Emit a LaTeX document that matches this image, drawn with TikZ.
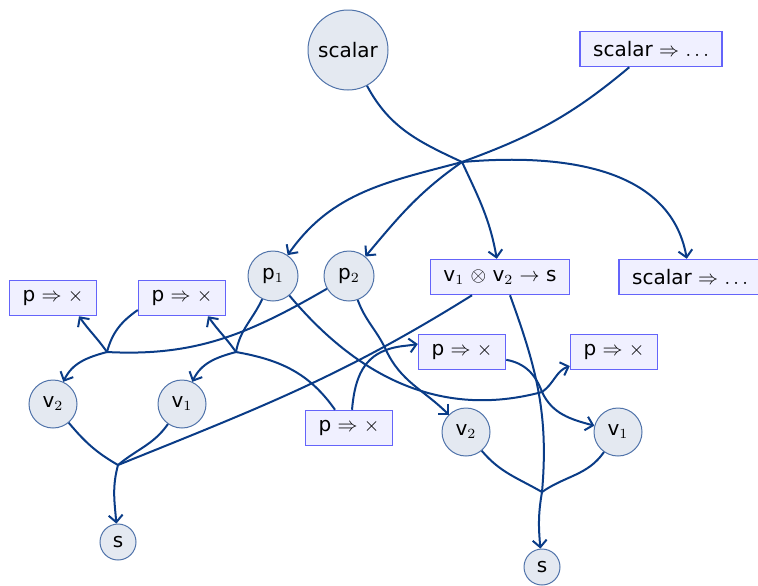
\documentclass[tikz,border=0pt]{standalone}
\usepackage{fontspec}
\setmainfont{DejaVu Sans}
\usetikzlibrary{arrows.meta}
\definecolor{linkblue}{RGB}{10,60,135}
\definecolor{valfill}{RGB}{228,233,241}
\definecolor{valdraw}{RGB}{80,115,170}
\definecolor{funfill}{RGB}{240,240,255}
\definecolor{fundraw}{RGB}{100,100,250}
\begin{document}
\begin{tikzpicture}[x=0.5pt, y=-0.5pt, >={Straight Barb[length=3.5pt,width=7pt]},
  every node/.style={font=\fontsize{10}{12}\selectfont},
  val/.style={circle, draw=valdraw, fill=valfill, line width=0.5pt, inner sep=1pt},
  fun/.style={rectangle, draw=fundraw, fill=funfill, line width=0.75pt, inner xsep=6.5pt, minimum height=17.5pt},
  link/.style={draw=linkblue, line width=1pt}]
\useasboundingbox (0,0) rectangle (758,585);
\node[val, minimum size=40pt] (scalar) at (348,50) {scalar};
\node[fun] (fnTop) at (651,49) {scalar $\Rightarrow$ $\ldots$};
\node[val, minimum size=25pt] (p1) at (273,276) {p$_1$};
\node[val, minimum size=25pt] (p2) at (349,276) {p$_2$};
\node[fun] (tensor) at (500,277) {v$_1$ $\otimes$ v$_2$ $\rightarrow$ s};
\node[fun] (fnRight) at (690,277) {scalar $\Rightarrow$ $\ldots$};
\node[fun] (fnA) at (53,298) {p $\Rightarrow$ $\times$};
\node[fun] (fnB) at (182,298) {p $\Rightarrow$ $\times$};
\node[fun] (fnC) at (349,428) {p $\Rightarrow$ $\times$};
\node[fun] (fnD) at (462,352) {p $\Rightarrow$ $\times$};
\node[fun] (fnE) at (614,352) {p $\Rightarrow$ $\times$};
\node[val, minimum size=24pt] (v2L) at (53,404) {v$_2$};
\node[val, minimum size=24pt] (v1L) at (182,404) {v$_1$};
\node[val, minimum size=24pt] (v2R) at (466,432) {v$_2$};
\node[val, minimum size=24pt] (v1R) at (618,432) {v$_1$};
\node[val, minimum size=18pt] (sL) at (118,542) {s};
\node[val, minimum size=18pt] (sR) at (542,567) {s};
\coordinate (hubTop) at (462,162);
\coordinate (hubA) at (107,352);
\coordinate (hubB) at (236,352);
\coordinate (hubC) at (118,465);
\coordinate (hubD) at (542,492);
\coordinate (hubE) at (386,350);
\coordinate (hubF) at (542,392);
% top
\draw[link] (scalar) to[out=-62,in=155] (hubTop);
\draw[link] (fnTop) to[out=-140,in=20] (hubTop);
\draw[link,->] (hubTop) to[out=195,in=55] (p1);
\draw[link,->] (hubTop) to[out=-145,in=50] (p2);
\draw[link,->] (hubTop) to[out=-65,in=100] (tensor);
\draw[link,->] (hubTop) to[out=5,in=100] (fnRight);
% left
\draw[link] (p2) to[out=-150,in=-3] (hubA);
\draw[link] ([yshift=-6pt]fnB.west) to[out=-145,in=75] (hubA);
\draw[link,->] (hubA) to[out=195,in=65] (v2L);
\draw[link,->] (hubA) to[out=125,in=-55] ([xshift=13pt]fnA.south);
\draw[link] (p1) to[out=-115,in=80] (hubB);
\draw[link] ([xshift=-7pt]fnC.north) to[out=125,in=-10] (hubB);
\draw[link,->] (hubB) to[out=195,in=65] (v1L);
\draw[link,->] (hubB) to[out=125,in=-55] ([xshift=13pt]fnB.south);
\draw[link] (v2L) to[out=-50,in=150] (hubC);
\draw[link] (v1L) to[out=-125,in=40] (hubC);
\draw[link] ([xshift=-14pt]tensor.south) to[out=-148,in=22] (hubC);
\draw[link,->] (hubC) to[out=-105,in=95] (sL);
% right
\draw[link] (p2) to[out=-70,in=115] (hubE);
\draw[link] ([xshift=1.5pt]fnC.north) to[out=85,in=-160] (hubE);
\draw[link,->] (hubE) to[out=-65,in=135] (v2R);
\draw[link,->] (hubE) to[out=20,in=190] ([yshift=4pt]fnD.west);
\draw[link] (p1) to[out=-50,in=195] (hubF);
\draw[link] (fnD) to[out=-10,in=110] (hubF);
\draw[link,->] (hubF) to[out=35,in=200] ([yshift=-7pt]fnE.west);
\draw[link,->] (hubF) to[out=-65,in=165] (v1R);
\draw[link] (v2R) to[out=-50,in=150] (hubD);
\draw[link] (v1R) to[out=-125,in=35] (hubD);
\draw[link] ([xshift=5pt]tensor.south) to[out=-70,in=85] (hubD);
\draw[link,->] (hubD) to[out=-100,in=95] (sR);
\end{tikzpicture}
\end{document}
